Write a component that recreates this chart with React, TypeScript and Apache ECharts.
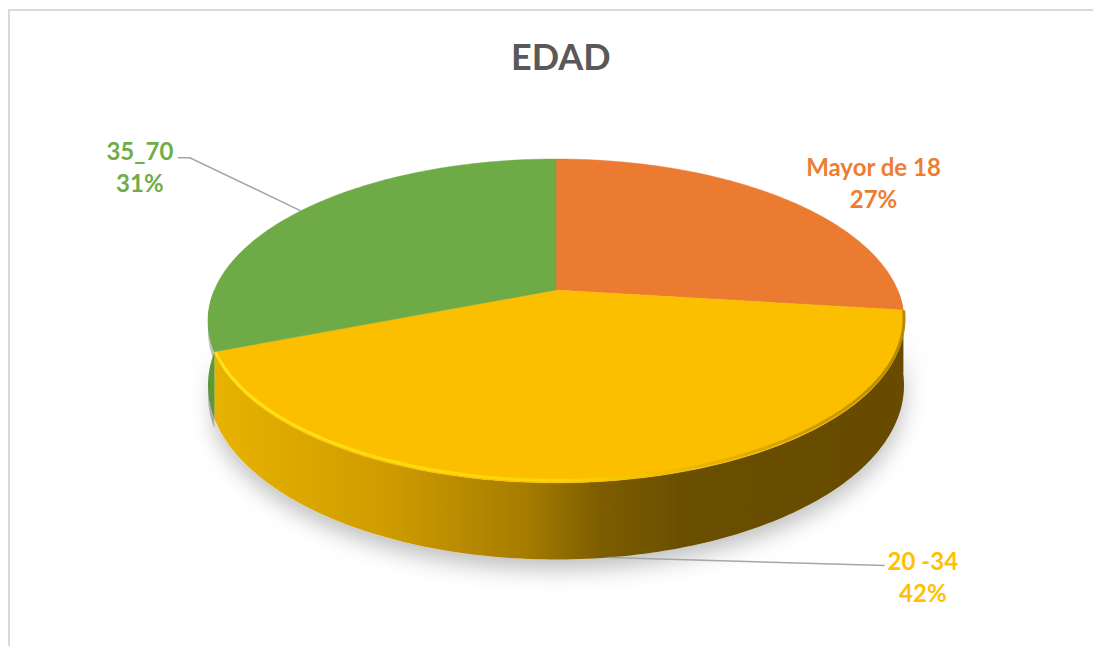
import React, { useEffect, useRef } from "react";
import * as echarts from "echarts";

const TITLE = "EDAD";
const CATEGORIES = ["Mayor de 18", "20 -34", "35_70"];
const VALUES = [27, 42, 31];
const TOP_COLORS = ["#EB7B31", "#FBBF00", "#6EAA46"];
const LABEL_COLORS = ["#ED7D31", "#FFC000", "#70AD47"];

// projection of the tilted disc (layout, not data)
const CX = 556;
const CY = 290;
const RX = 341.6;
const RY = 156;
const K = 0.191;
const DEPTH = 62;

const total = VALUES.reduce((s, v) => s + v, 0);

function sliceRange(i: number): [number, number] {
  let acc = 0;
  for (let j = 0; j < i; j++) acc += VALUES[j];
  const t0 = (acc / total) * 360;
  const t1 = ((acc + VALUES[i]) / total) * 360;
  return [t0, t1];
}

// t: degrees clockwise from 12 o'clock
function proj(t: number, down = 0): [number, number] {
  const phi = ((90 - t) * Math.PI) / 180;
  const X = Math.cos(phi);
  const Y = Math.sin(phi);
  const w = 1 + K * Y;
  return [CX + (RX * X) / w, CY - (RY * Y) / w + (down ? DEPTH / w : 0)];
}

function arcPoints(t0: number, t1: number, down = 0): number[][] {
  const pts: number[][] = [];
  const n = Math.max(2, Math.ceil(Math.abs(t1 - t0)));
  for (let s = 0; s <= n; s++) {
    const t = t0 + ((t1 - t0) * s) / n;
    pts.push(proj(t, down));
  }
  return pts;
}

const WALL_FILLS = [
  "#8C4A1E",
  new echarts.graphic.LinearGradient(0, 0, 1, 0, [
    { offset: 0, color: "#E8B200" },
    { offset: 0.25, color: "#CF9C00" },
    { offset: 0.45, color: "#A67C00" },
    { offset: 0.56, color: "#7D5D00" },
    { offset: 0.68, color: "#6A4F00" },
    { offset: 1, color: "#664B00" },
  ]),
  "#5C9838",
];

// label layout relative to the slice anchor
const LABEL_LAYOUT = [
  { bottom: false, dx: 90, dy: -16, leader: [] as number[][] },
  { bottom: true, dx: 314, dy: 19, leader: [[276, 8]] },
  { bottom: false, dx: -161, dy: -44, leader: [[-111, -53], [-123, -53]] },
];

export default function App() {
  const ref = useRef<HTMLDivElement>(null);
  useEffect(() => {
    if (!ref.current) return;
    const chart = echarts.init(ref.current, null, { renderer: "svg" });

    const renderWall = (params: any, api: any) => {
      const i = params.dataIndex;
      const [a0, a1] = sliceRange(i);
      const t0 = Math.max(a0, 90);
      const t1 = Math.min(a1, 270);
      if (t1 <= t0) return { type: "group", children: [] };
      const top = arcPoints(t0, t1, 0);
      const bot = arcPoints(t1, t0, 1);
      const children: any[] = [
        {
          type: "polygon",
          shape: { points: top.concat(bot) },
          style: {
            fill: WALL_FILLS[i],
            shadowBlur: i === 1 ? 22 : 0,
            shadowColor: "rgba(0,0,0,0.25)",
            shadowOffsetY: 10,
          },
        },
      ];
      return { type: "group", children };
    };

    const renderFace = (params: any, api: any) => {
      const i = params.dataIndex;
      const v = api.value(0);
      const [a0, a1] = sliceRange(i);
      const pts = [[CX, CY]].concat(arcPoints(a0, a1, 0));
      const children: any[] = [
        {
          type: "polygon",
          shape: { points: pts },
          style: { fill: TOP_COLORS[i], stroke: TOP_COLORS[i], lineWidth: 0.5 },
        },
      ];
      // front rim highlight
      const f0 = Math.max(a0, 90);
      const f1 = Math.min(a1, 270);
      if (i === 1 && f1 > f0) {
        const rim = arcPoints(f0 + 1, f1 - 1, 0).map((p) => [p[0], p[1] - 2.5]);
        children.push({
          type: "polyline",
          shape: { points: rim },
          style: {
            fill: null,
            lineWidth: 3,
            stroke: new echarts.graphic.LinearGradient(0, 0, 1, 0, [
              { offset: 0, color: "#FFE21A" },
              { offset: 0.5, color: "#FFD400" },
              { offset: 0.75, color: "#E5AE00" },
              { offset: 1, color: "#B88800" },
            ]),
          },
        });
      }
      // label
      const mid = (a0 + a1) / 2;
      const lay = LABEL_LAYOUT[i];
      const anchor = proj(mid, lay.bottom ? 1 : 0);
      if (lay.leader.length) {
        const line = [anchor].concat(lay.leader.map((o) => [anchor[0] + o[0], anchor[1] + o[1]]));
        children.push({
          type: "polyline",
          shape: { points: line },
          style: { fill: null, stroke: "#A6A6A6", lineWidth: 1.5 },
        });
      }
      children.push({
        type: "text",
        x: anchor[0] + lay.dx,
        y: anchor[1] + lay.dy,
        style: {
          text: CATEGORIES[i] + "\n" + Math.round((v / total) * 100) + "%",
          fill: LABEL_COLORS[i],
          fontFamily: "Lato",
          fontWeight: "bold",
          fontSize: 24,
          lineHeight: 32,
          align: "center",
          verticalAlign: "middle",
        },
      });
      return { type: "group", children };
    };

    chart.setOption({
      animation: false,
      backgroundColor: "#FFFFFF",
      title: {
        text: TITLE,
        left: 506,
        top: 33,
        textStyle: { fontFamily: "Lato", fontWeight: "bold", fontSize: 36, color: "#595959" },
      },
      graphic: [
        { type: "line", shape: { x1: 8, y1: 10, x2: 1093, y2: 10 }, style: { stroke: "#D9D9D9", lineWidth: 2 } },
        { type: "line", shape: { x1: 9, y1: 10, x2: 9, y2: 646 }, style: { stroke: "#D9D9D9", lineWidth: 2 } },
      ],
      series: [
        {
          type: "custom",
          coordinateSystem: "none",
          z: 1,
          data: VALUES.map((v) => [v]),
          renderItem: renderWall,
          silent: true,
        },
        {
          type: "custom",
          coordinateSystem: "none",
          z: 2,
          data: VALUES.map((v) => [v]),
          renderItem: renderFace,
          silent: true,
        },
      ],
    });
    return () => chart.dispose();
  }, []);
  return (
    <div
      ref={ref}
      style={{ position: "absolute", left: 0, top: 0, width: 1093, height: 646 }}
    />
  );
}
